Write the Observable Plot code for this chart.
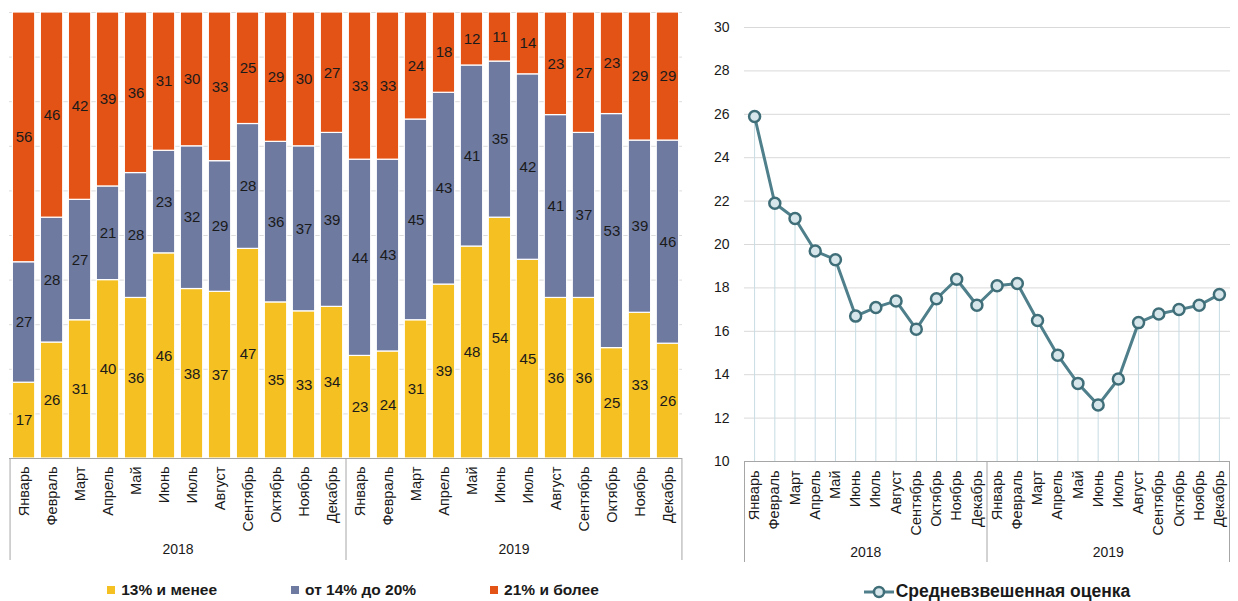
<!DOCTYPE html>
<html><head><meta charset="utf-8">
<script src="https://cdn.jsdelivr.net/npm/d3@7"></script>
<script src="https://cdn.jsdelivr.net/npm/@observablehq/plot@0.6"></script>
<style>
body{margin:0;background:#fff;font-family:"Liberation Sans",Arial,sans-serif;color:#1a1a1a;}
#wrap{display:flex;width:1238px;height:601px;overflow:hidden;}
#left{width:700px;}
#right{width:538px;}
.legend{display:flex;justify-content:center;align-items:center;height:31px;font-weight:bold;}
.legend .item{display:flex;align-items:center;}
.sw{width:8px;height:8px;margin-right:6px;display:inline-block;}
#leg1{gap:74px;font-size:15.5px;padding-top:4px;padding-left:6px;}
#leg2{font-size:17.5px;padding-top:6px;padding-left:56px;}
</style></head>
<body><div id="wrap"><div id="left"></div><div id="right"></div></div>
<script>
// ---- data ----
const years = ["2018", "2019"];
const months = ["Январь","Февраль","Март","Апрель","Май","Июнь","Июль","Август","Сентябрь","Октябрь","Ноябрь","Декабрь"];
const categories = ["13% и менее", "от 14% до 20%", "21% и более"];
const colors = ["#F5C021", "#6F7AA1", "#E35316"];
const lowShare  = [17,26,31,40,36,46,38,37,47,35,33,34, 23,24,31,39,48,54,45,36,36,25,33,26];
const midShare  = [27,28,27,21,28,23,32,29,28,36,37,39, 44,43,45,43,41,35,42,41,37,53,39,46];
const highShare = [56,46,42,39,36,31,30,33,25,29,30,27, 33,33,24,18,12,11,14,23,27,23,29,29];
const avgScore  = [25.9,21.9,21.2,19.7,19.3,16.7,17.1,17.4,16.1,17.5,18.4,17.2,
                   18.1,18.2,16.5,14.9,13.6,12.6,13.8,16.4,16.8,17.0,17.2,17.7];
const lineSeries = "Средневзвешенная оценка";
const yTicks = [10,12,14,16,18,20,22,24,26,28,30];
const shareGrid = [0,0.1,0.2,0.3,0.4,0.5,0.6,0.7,0.8,0.9,1];

// ---- derived tables ----
const keys = years.flatMap(y => months.map(m => `${y} ${m}`));
const series = [lowShare, midShare, highShare];
const barData = categories.flatMap((c, ci) => series[ci].map((v, i) => ({key: keys[i], cat: c, value: v})));
const lineData = avgScore.map((v, i) => ({key: keys[i], value: v}));
const monthOf = d => d.split(" ")[1];
const font = '"Liberation Sans","Arial",sans-serif';
const boxColor = "#a6a6a6";
const txt = "#1a1a1a";

// ---- left chart ----
const W1 = 700, H1 = 570, ml1 = 9, mr1 = 18, mt1 = 12, mb1 = 112;
const pi1 = 0.2, po1 = 0.12;
const step1 = (W1 - ml1 - mr1) / (keys.length - pi1 + 2 * po1);
const left = Plot.plot({
  width: W1, height: H1, marginLeft: ml1, marginRight: mr1, marginTop: mt1, marginBottom: mb1,
  style: {fontFamily: font, fontSize: "14px", color: txt, background: "transparent"},
  x: {type: "band", domain: keys, paddingInner: pi1, paddingOuter: po1, round: false},
  y: {domain: [0, 1], axis: null},
  color: {domain: categories, range: colors},
  marks: [
    Plot.gridY(shareGrid, {stroke: "#dcdcdc", strokeOpacity: 1}),
    Plot.barY(barData, Plot.stackY({offset: "normalize", x: "key", y: "value", fill: "cat", stroke: "#fff", strokeWidth: 1.2})),
    Plot.text(barData, Plot.stackY({offset: "normalize", x: "key", y: "value", text: d => String(d.value), fill: txt, fontSize: 15})),
    Plot.ruleY([0], {stroke: boxColor}),
    Plot.axisX({tickFormat: monthOf, tickRotate: -90, tickSize: 0, tickPadding: 8, fontSize: 14.5, label: null}),
    Plot.ruleX(["2018 Январь", "2019 Январь"], {x: d => d, y1: 0, y2: 0, dx: -step1 / 2, insetBottom: -102, stroke: boxColor}),
    Plot.ruleX(["2019 Декабрь"], {x: d => d, y1: 0, y2: 0, dx: step1 / 2, insetBottom: -102, stroke: boxColor}),
    Plot.text(years, {x: d => d + " Июнь", y: 0, dx: step1 / 2, dy: 91, text: d => d, fontSize: 14, fill: txt})
  ]
});
document.getElementById("left").append(left);
const leg1 = document.createElement("div");
leg1.className = "legend"; leg1.id = "leg1";
categories.forEach((c, i) => {
  const it = document.createElement("div"); it.className = "item";
  it.innerHTML = `<span class="sw" style="background:${colors[i]}"></span><span>${c}</span>`;
  leg1.append(it);
});
document.getElementById("left").append(leg1);

// ---- right chart ----
const W2 = 538, H2 = 570, ml2 = 44, mr2 = 9, mt2 = 27, mb2 = 109;
const step2 = (W2 - ml2 - mr2) / keys.length;
const lineColor = "#4E7F8A";
const right = Plot.plot({
  width: W2, height: H2, marginLeft: ml2, marginRight: mr2, marginTop: mt2, marginBottom: mb2,
  style: {fontFamily: font, fontSize: "14px", color: txt, background: "transparent"},
  x: {type: "band", domain: keys, padding: 0, round: false},
  y: {domain: [10, 30]},
  marks: [
    Plot.gridY(yTicks, {stroke: "#d9d9d9", strokeOpacity: 1, insetRight: -1}),
    Plot.axisY(yTicks, {tickSize: 0, tickPadding: 15, fontSize: 14, label: null}),
    Plot.ruleX(lineData, {x: "key", y1: 10, y2: "value", stroke: "#c6dce3", strokeWidth: 1}),
    Plot.line(lineData, {x: "key", y: "value", stroke: lineColor, strokeWidth: 3}),
    Plot.dot(lineData, {x: "key", y: "value", r: 5.5, fill: "#d7e6ea", stroke: "#3f6e78", strokeWidth: 2.5}),
    Plot.ruleY([10], {stroke: boxColor}),
    Plot.axisX({tickFormat: monthOf, tickRotate: -90, tickSize: 0, tickPadding: 9, fontSize: 14.5, label: null}),
    Plot.ruleX(["2018 Январь", "2019 Январь"], {x: d => d, y1: 10, y2: 10, dx: -step2 / 2, insetBottom: -101, stroke: boxColor}),
    Plot.ruleX(["2019 Декабрь"], {x: d => d, y1: 10, y2: 10, dx: step2 / 2, insetBottom: -101, stroke: boxColor}),
    Plot.text(years, {x: d => d + " Июнь", y: 10, dx: step2 / 2, dy: 91, text: d => d, fontSize: 14, fill: txt})
  ]
});
document.getElementById("right").append(right);
const leg2 = document.createElement("div");
leg2.className = "legend"; leg2.id = "leg2";
leg2.innerHTML = `<div class="item"><svg width="30" height="14" style="margin-right:2px"><line x1="0" y1="7" x2="30" y2="7" stroke="${lineColor}" stroke-width="3"/><circle cx="15" cy="7" r="5" fill="#d7e6ea" stroke="#3f6e78" stroke-width="2.5"/></svg><span>${lineSeries}</span></div>`;
document.getElementById("right").append(leg2);
</script>
</body></html>
